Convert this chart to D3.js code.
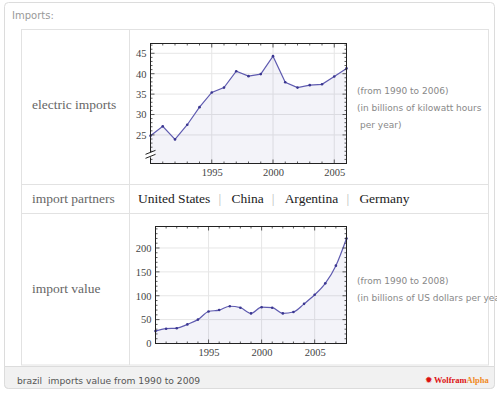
<!DOCTYPE html>
<html lang="en">
<head>
<meta charset="UTF-8">
<script src="https://d3js.org/d3.v7.min.js"></script>
<style>
  body { margin: 0; background: #fff; }
  svg { display: block; }
</style>
</head>
<body>
<svg id="chart" width="500" height="394"></svg>
<script>
// electric imports, billions of kWh per year
const elecYears = [1990,1991,1992,1993,1994,1995,1996,1997,1998,1999,2000,2001,2002,2003,2004,2005,2006];
const elecValues = [24.8,27.1,23.9,27.5,31.8,35.4,36.6,40.6,39.4,39.9,44.3,37.9,36.6,37.2,37.4,39.3,41.3];
const elecTicks = [25,30,35,40,45];

// import value, billions of US dollars per year
const valYears = [1990,1991,1992,1993,1994,1995,1996,1997,1998,1999,2000,2001,2002,2003,2004,2005,2006,2007,2008];
const valValues = [26,31,32,40,50,67,70,78,75,63,76,75,63,66,83,102,126,163,220];
const valTicks = [0,50,100,150,200];

const yearTicks = [1995,2000,2005];
const partners = ["United States","China","Argentina","Germany"];

const svg = d3.select("#chart");
const serif = "'Liberation Serif','DejaVu Serif',serif";
const sans = "'DejaVu Sans','Liberation Sans',sans-serif";

// outer frame
svg.append("rect").attr("x",4.5).attr("y",2.5).attr("width",490).attr("height",386)
  .attr("rx",4).attr("fill","#fff").attr("stroke","#dcdcdc");
// footer
svg.append("path").attr("d","M4.5,366.5 H494.5 V384.5 a4,4 0 0 1 -4,4 H8.5 a4,4 0 0 1 -4,-4 Z")
  .attr("fill","#f1f1f1").attr("stroke","#dcdcdc");
svg.append("text").attr("x",12).attr("y",19).attr("font-family",sans).attr("font-size",10)
  .attr("fill","#999").text("Imports:");

// table lines
const tl = svg.append("g").attr("stroke","#e2e2e2").attr("fill","none");
tl.append("rect").attr("x",21.5).attr("y",29.5).attr("width",467).attr("height",335.5);
tl.append("line").attr("x1",129.5).attr("x2",129.5).attr("y1",29.5).attr("y2",365);
tl.append("line").attr("x1",21.5).attr("x2",488.5).attr("y1",184.5).attr("y2",184.5);
tl.append("line").attr("x1",21.5).attr("x2",488.5).attr("y1",213.5).attr("y2",213.5);

// row labels
const lab = [["electric imports",109],["import partners",203],["import value",293]];
lab.forEach(d => svg.append("text").attr("x",32).attr("y",d[1]).attr("font-family",serif)
  .attr("font-size",13.5).attr("fill","#666").text(d[0]));

// partners row
let px = 138;
const pr = svg.append("g").attr("font-family",serif).attr("font-size",13.5);
partners.forEach((p,i) => {
  const t = pr.append("text").attr("x",px).attr("y",203).attr("fill","#222").text(p);
  px += t.node().getComputedTextLength();
  if (i < partners.length-1) {
    pr.append("text").attr("x",px+8).attr("y",203).attr("fill","#bbb").text("|");
    px += 21;
  }
});

// notes
function note(lines, x, ys) {
  lines.forEach((s,i) => svg.append("text").attr("x",x[i]).attr("y",ys[i]).attr("font-family",sans)
    .attr("font-size",9).attr("fill","#888").text(s));
}
note(["(from 1990 to 2006)","(in billions of kilowatt hours","per year)"],[357,357,360],[94,111,128]);
svg.append("clipPath").attr("id","nclip").append("rect").attr("x",340).attr("y",260).attr("width",157).attr("height",60);
const g2n = svg.append("g").attr("clip-path","url(#nclip)");
["(from 1990 to 2008)","(in billions of US dollars per year)"].forEach((s,i) =>
  g2n.append("text").attr("x",357).attr("y",[284,301][i]).attr("font-family",sans)
    .attr("font-size",9).attr("fill","#888").text(s));

// footer text
svg.append("text").attr("x",17).attr("y",384).attr("font-family",sans).attr("font-size",9.2)
  .attr("fill","#555").style("white-space","pre").text("brazil  imports value from 1990 to 2009");
const logo = svg.append("text").attr("x",434).attr("y",383).attr("font-family",serif)
  .attr("font-size",8.5).attr("font-weight","bold");
logo.append("tspan").attr("fill","#d11").text("Wolfram");
logo.append("tspan").attr("fill","#f08a24").text("Alpha");
svg.append("text").attr("x",425).attr("y",383).attr("font-size",9).attr("fill","#d11")
  .attr("font-family",sans).text("✹");

function plot(opts) {
  const {years, values, yDomain, yTicks, box, curve, brk, minorY} = opts;
  const x = d3.scaleLinear().domain(d3.extent(years)).range([box.x0, box.x1]);
  const y = d3.scaleLinear().domain(yDomain).range([box.y1, box.y0]);
  const g = svg.append("g");
  g.append("rect").attr("x",box.x0).attr("y",box.y0).attr("width",box.x1-box.x0)
    .attr("height",box.y1-box.y0).attr("fill","#fff");
  // grid
  const grid = g.append("g").attr("stroke","#e6e6e6").attr("stroke-width",1);
  yTicks.forEach(v => grid.append("line").attr("x1",box.x0).attr("x2",box.x1)
    .attr("y1",y(v)).attr("y2",y(v)));
  yearTicks.forEach(v => grid.append("line").attr("y1",box.y0).attr("y2",box.y1)
    .attr("x1",x(v)).attr("x2",x(v)));
  const pts = years.map((yr,i) => [yr, values[i]]);
  const area = d3.area().x(d => x(d[0])).y0(box.y1).y1(d => y(d[1])).curve(curve);
  g.append("path").attr("d",area(pts)).attr("fill","#5a56b0").attr("fill-opacity",0.07);
  const line = d3.line().x(d => x(d[0])).y(d => y(d[1])).curve(curve);
  g.append("path").attr("d",line(pts)).attr("fill","none").attr("stroke","#5f5bb0").attr("stroke-width",1.2);
  g.selectAll("circle.pt").data(pts).enter().append("circle").attr("class","pt")
    .attr("cx",d => x(d[0])).attr("cy",d => y(d[1])).attr("r",1.3).attr("fill","#3a3690");
  // axes (ticks inside on all sides)
  const ax = g.append("g");
  const bottom = d3.axisBottom(x).tickValues(yearTicks).tickSize(0).tickPadding(5).tickFormat(d3.format("d"));
  ax.append("g").attr("transform",`translate(0,${box.y1})`).call(bottom)
    .call(s => s.select(".domain").remove())
    .call(s => s.selectAll("text").attr("font-family",serif).attr("font-size",10.5).attr("fill","#444"));
  const left = d3.axisLeft(y).tickValues(yTicks).tickSize(0).tickPadding(4);
  ax.append("g").attr("transform",`translate(${box.x0},0)`).call(left)
    .call(s => s.select(".domain").remove())
    .call(s => s.selectAll("text").attr("font-family",serif).attr("font-size",10.5).attr("fill","#444"));
  const tk = g.append("g").attr("stroke","#333").attr("stroke-width",0.8);
  d3.range(x.domain()[0], x.domain()[1]+1).forEach(v => {
    const len = yearTicks.includes(v) ? 4 : 2;
    tk.append("line").attr("x1",x(v)).attr("x2",x(v)).attr("y1",box.y1).attr("y2",box.y1-len);
    tk.append("line").attr("x1",x(v)).attr("x2",x(v)).attr("y1",box.y0).attr("y2",box.y0+len);
  });
  minorY.forEach(v => {
    const len = yTicks.includes(v) ? 4 : 2;
    if (v < yDomain[0] || v > yDomain[1]) return;
    tk.append("line").attr("x1",box.x0).attr("x2",box.x0+len).attr("y1",y(v)).attr("y2",y(v));
    tk.append("line").attr("x1",box.x1).attr("x2",box.x1-len).attr("y1",y(v)).attr("y2",y(v));
  });
  g.append("rect").attr("x",box.x0).attr("y",box.y0).attr("width",box.x1-box.x0)
    .attr("height",box.y1-box.y0).attr("fill","none").attr("stroke","#222").attr("stroke-width",1);
  if (brk != null) {
    const by = y(brk);
    g.append("rect").attr("x",box.x0-4).attr("y",by-3).attr("width",8).attr("height",5).attr("fill","#fff");
    g.append("path").attr("d",`M${box.x0-5},${by-1} l10,-4 M${box.x0-5},${by+3} l10,-4`)
      .attr("stroke","#222").attr("stroke-width",1);
  }
}

plot({years: elecYears, values: elecValues, yDomain: [18, 47.4], yTicks: elecTicks,
  box: {x0:150.5, x1:346.5, y0:43.5, y1:163.5}, curve: d3.curveLinear, brk: 20,
  minorY: d3.range(19, 48, 1)});
plot({years: valYears, values: valValues, yDomain: [0, 245], yTicks: valTicks,
  box: {x0:155.5, x1:346.5, y0:226.5, y1:343.5}, curve: d3.curveMonotoneX, brk: null,
  minorY: d3.range(0, 250, 10)});
</script>
</body>
</html>
